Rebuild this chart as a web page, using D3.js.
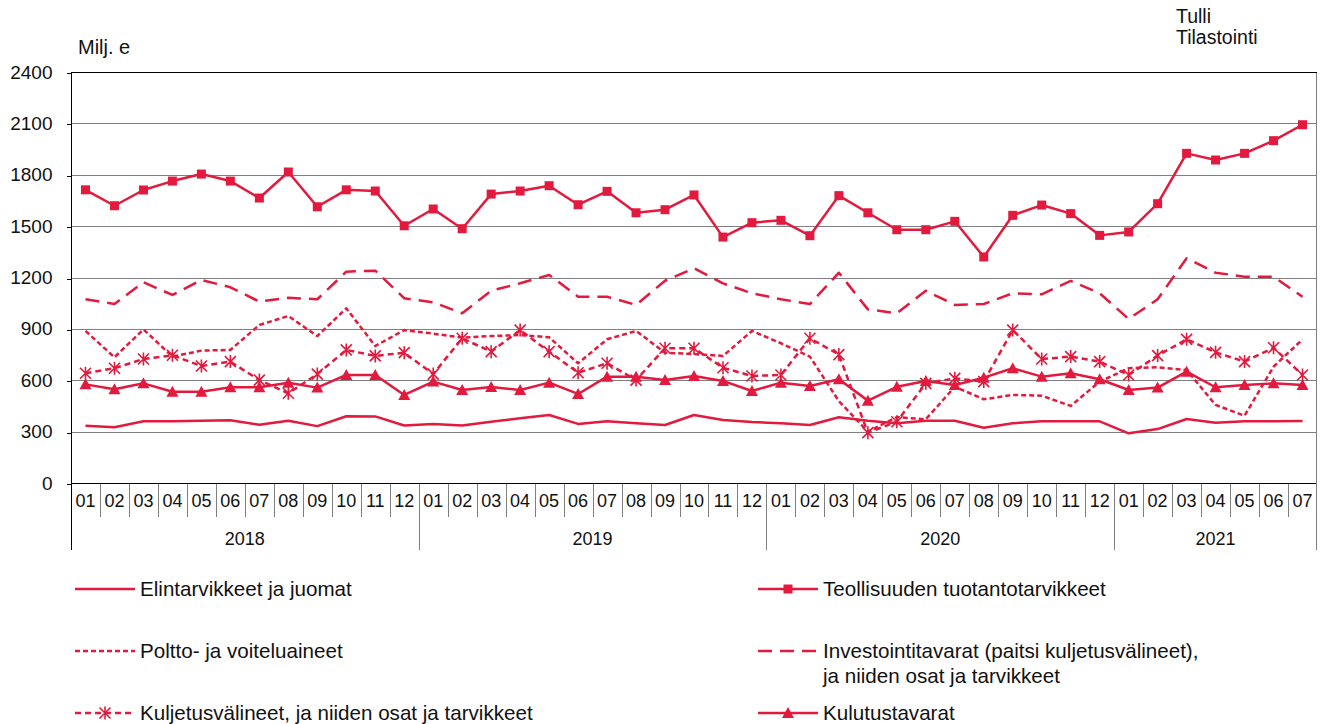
<!DOCTYPE html>
<html lang="fi">
<head>
  <meta charset="UTF-8" />
  <title>Tuonti käyttötarkoituksen mukaan</title>
  <style>
    html, body {
      margin: 0; padding: 0;
      background: #fff;
      font-family: Arial, "Liberation Sans", sans-serif;
    }
    svg { display: block; }
    .grid line { stroke: #7f7f7f; stroke-width: 1px; shape-rendering: crispEdges; }
    .frame { stroke: #000; stroke-width: 1px; shape-rendering: crispEdges; fill: none; }
    .sep { stroke: #7f7f7f; stroke-width: 1px; shape-rendering: crispEdges; }
    .series { fill: none; stroke-width: 2.5px; stroke-linejoin: round; }
    text { fill: #111; }
  </style>
</head>
<body>
  <svg width="1326" height="724"></svg>

  <script src="https://d3js.org/d3.v7.min.js"></script>
  <script>
    // kuukaudet ja vuodet
    const years = ["2018", "2019", "2020", "2021"];
    const monthsPerYear = [12, 12, 12, 7];
    const months = [];
    monthsPerYear.forEach(n => {
      for (let m = 1; m <= n; m++) months.push(String(m).padStart(2, "0"));
    });

    const yTicks = [0, 300, 600, 900, 1200, 1500, 1800, 2100, 2400];

    // arvot, milj. e
    const elintarvikkeet = [
      335, 326, 360, 360, 364, 367, 340, 364, 332, 390, 389, 336,
      345, 336, 358, 378, 397, 345, 361, 349, 339, 397, 368, 356,
      349, 339, 384, 364, 349, 364, 364, 323, 349, 360, 360, 360,
      290, 315, 374, 352, 360, 360, 362
    ];
    const teollisuus = [
      1712, 1619, 1711, 1763, 1804, 1763, 1664, 1816, 1613, 1712, 1705, 1502,
      1600, 1485, 1687, 1705, 1736, 1625, 1703, 1578, 1596, 1682, 1436, 1520,
      1534, 1444, 1678, 1578, 1479, 1479, 1528, 1320, 1563, 1623, 1573, 1446,
      1466, 1631, 1925, 1886, 1925, 1999, 2092
    ];
    const poltto = [
      888, 734, 897, 738, 773, 777, 923, 975, 858, 1020, 800, 893,
      872, 849, 858, 864, 851, 699, 839, 888, 761, 753, 742, 888,
      816, 738, 478, 300, 385, 372, 562, 489, 514, 510, 450, 592,
      670, 676, 660, 456, 393, 679, 839
    ];
    const investointi = [
      1073, 1045, 1172, 1098, 1186, 1143, 1059, 1082, 1073, 1234, 1240, 1079,
      1055, 991, 1123, 1166, 1215, 1088, 1088, 1040, 1181, 1254, 1166, 1108,
      1073, 1045, 1228, 1014, 991, 1123, 1040, 1045, 1108, 1102, 1180, 1108,
      958, 1073, 1312, 1228, 1205, 1205, 1088
    ];
    const kuljetus = [
      641, 670, 724, 746, 683, 709, 601, 524, 636, 777, 742, 761,
      636, 845, 767, 893, 767, 644, 699, 601, 787, 787, 673, 625,
      631, 845, 750, 294, 358, 582, 611, 592, 893, 724, 738, 709,
      631, 744, 839, 763, 709, 790, 631
    ];
    const kulutus = [
      576, 547, 582, 533, 533, 559, 559, 586, 557, 631, 631, 514,
      592, 543, 561, 543, 586, 520, 621, 621, 601, 625, 596, 537,
      586, 566, 606, 481, 562, 596, 572, 615, 670, 621, 641, 606,
      543, 557, 650, 559, 572, 582, 572
    ];

    const red = "#e3193d";

    const series = [
      { name: "Elintarvikkeet ja juomat", values: elintarvikkeet, dash: null, marker: null },
      { name: "Teollisuuden tuotantotarvikkeet", values: teollisuus, dash: null, marker: "square" },
      { name: "Poltto- ja voiteluaineet", values: poltto, dash: "5,3", marker: null },
      { name: ["Investointitavarat (paitsi kuljetusvälineet),", "ja niiden osat ja tarvikkeet"], values: investointi, dash: "14,8", marker: null },
      { name: "Kuljetusvälineet, ja niiden osat ja tarvikkeet", values: kuljetus, dash: "6,4", marker: "star" },
      { name: "Kulutustavarat", values: kulutus, dash: null, marker: "triangle" }
    ];

    const plotLeft = 71, plotRight = 1317, plotTop = 72, plotBottom = 483;
    const svg = d3.select("svg");

    const x = d3.scaleBand().domain(d3.range(months.length)).range([plotLeft, plotRight]);
    const y = d3.scaleLinear().domain([0, 2400]).range([plotBottom, plotTop]);
    const cx = i => x(i) + x.bandwidth() / 2;

    // ruudukko
    svg.append("g").attr("class", "grid")
      .selectAll("line")
      .data(yTicks.filter(t => t > 0 && t < 2400))
      .join("line")
      .attr("x1", plotLeft).attr("x2", plotRight)
      .attr("y1", d => Math.round(y(d)) + 0.5).attr("y2", d => Math.round(y(d)) + 0.5);

    // y-akseli
    const yAxis = svg.append("g")
      .attr("transform", `translate(${plotLeft + 0.5},0)`)
      .call(d3.axisLeft(y).tickValues(yTicks).tickSize(5).tickPadding(14).tickFormat(d3.format("d")));
    yAxis.select(".domain").remove();
    yAxis.selectAll("line").attr("stroke", "#000").attr("shape-rendering", "crispEdges")
      .attr("transform", d => `translate(0,${Math.round(y(d)) + 0.5 - y(d)})`);
    yAxis.selectAll("text")
      .attr("font-size", 19).attr("font-family", "Arial, 'Liberation Sans', sans-serif").attr("fill", "#111");

    // kehys
    const yb = Math.round(y(0)) + 0.5, yt = Math.round(y(2400)) + 0.5;
    svg.append("line").attr("class", "frame").attr("x1", plotLeft).attr("x2", plotRight).attr("y1", yt).attr("y2", yt);
    svg.append("line").attr("class", "frame").attr("x1", plotLeft).attr("x2", plotRight).attr("y1", yb).attr("y2", yb);
    svg.append("line").attr("class", "frame").attr("x1", plotLeft + 0.5).attr("x2", plotLeft + 0.5).attr("y1", yt).attr("y2", 550);
    svg.append("line").attr("class", "sep").attr("x1", plotRight - 0.5).attr("x2", plotRight - 0.5).attr("y1", yt).attr("y2", 550);

    // kuukausi- ja vuosierottimet
    const yearStart = [];
    let acc = 0;
    monthsPerYear.forEach(n => { yearStart.push(acc); acc += n; });

    svg.append("g").selectAll("line")
      .data(d3.range(1, months.length).filter(i => !yearStart.includes(i)))
      .join("line").attr("class", "sep")
      .attr("x1", i => Math.round(x(i)) + 0.5).attr("x2", i => Math.round(x(i)) + 0.5)
      .attr("y1", yb).attr("y2", 517);

    svg.append("g").selectAll("line")
      .data(yearStart.filter(i => i > 0))
      .join("line").attr("class", "sep")
      .attr("x1", i => Math.round(x(i)) + 0.5).attr("x2", i => Math.round(x(i)) + 0.5)
      .attr("y1", yb).attr("y2", 550);

    svg.append("g").selectAll("text")
      .data(months)
      .join("text")
      .attr("x", (d, i) => cx(i))
      .attr("y", 507)
      .attr("text-anchor", "middle")
      .attr("font-size", 18)
      .text(d => d);

    svg.append("g").selectAll("text")
      .data(years)
      .join("text")
      .attr("x", (d, i) => (x(yearStart[i]) + x(yearStart[i] + monthsPerYear[i] - 1) + x.bandwidth()) / 2)
      .attr("y", 545)
      .attr("text-anchor", "middle")
      .attr("font-size", 18)
      .text(d => d);

    // otsikot
    svg.append("text").attr("x", 78).attr("y", 54).attr("font-size", 20).text("Milj. e");
    svg.append("text").attr("x", 1176).attr("y", 23).attr("font-size", 19.5).text("Tulli");
    svg.append("text").attr("x", 1176).attr("y", 44).attr("font-size", 19.5).text("Tilastointi");

    // merkit
    function drawMarker(g, type, px, py) {
      if (type === "square") {
        g.append("rect").attr("x", px - 4.5).attr("y", py - 4.5).attr("width", 9).attr("height", 9)
          .attr("fill", red);
      } else if (type === "triangle") {
        g.append("path").attr("d", `M${px},${py - 6}L${px + 6},${py + 5}L${px - 6},${py + 5}Z`)
          .attr("fill", red);
      } else if (type === "star") {
        const r = 5.5;
        g.append("path")
          .attr("d", `M${px - r},${py - r}L${px + r},${py + r}M${px - r},${py + r}L${px + r},${py - r}M${px},${py - r - 1}L${px},${py + r + 1}`)
          .attr("stroke", red).attr("stroke-width", 1.6).attr("fill", "none");
      }
    }

    const line = d3.line().x((d, i) => cx(i)).y(d => y(d));

    const plot = svg.append("g");
    series.forEach(s => {
      plot.append("path")
        .datum(s.values)
        .attr("class", "series")
        .attr("stroke", red)
        .attr("stroke-dasharray", s.dash)
        .attr("d", line);
    });
    series.forEach(s => {
      if (!s.marker) return;
      const g = plot.append("g");
      s.values.forEach((v, i) => drawMarker(g, s.marker, cx(i), y(v)));
    });

    // selite
    const legendPos = [
      { x: 75, y: 589 }, { x: 758, y: 589 },
      { x: 75, y: 651 }, { x: 758, y: 651 },
      { x: 75, y: 713 }, { x: 758, y: 713 }
    ];
    series.forEach((s, i) => {
      const p = legendPos[i];
      const w = 60;
      const g = svg.append("g");
      g.append("line")
        .attr("x1", p.x).attr("x2", p.x + w)
        .attr("y1", p.y).attr("y2", p.y)
        .attr("stroke", red).attr("stroke-width", 2.5)
        .attr("stroke-dasharray", s.dash);
      if (s.marker) drawMarker(g, s.marker, p.x + w / 2, p.y);
      const lines = Array.isArray(s.name) ? s.name : [s.name];
      lines.forEach((t, k) => {
        g.append("text")
          .attr("x", p.x + w + 5)
          .attr("y", p.y + 7 + k * 25)
          .attr("font-size", 20.6)
          .text(t);
      });
    });
  </script>
</body>
</html>
